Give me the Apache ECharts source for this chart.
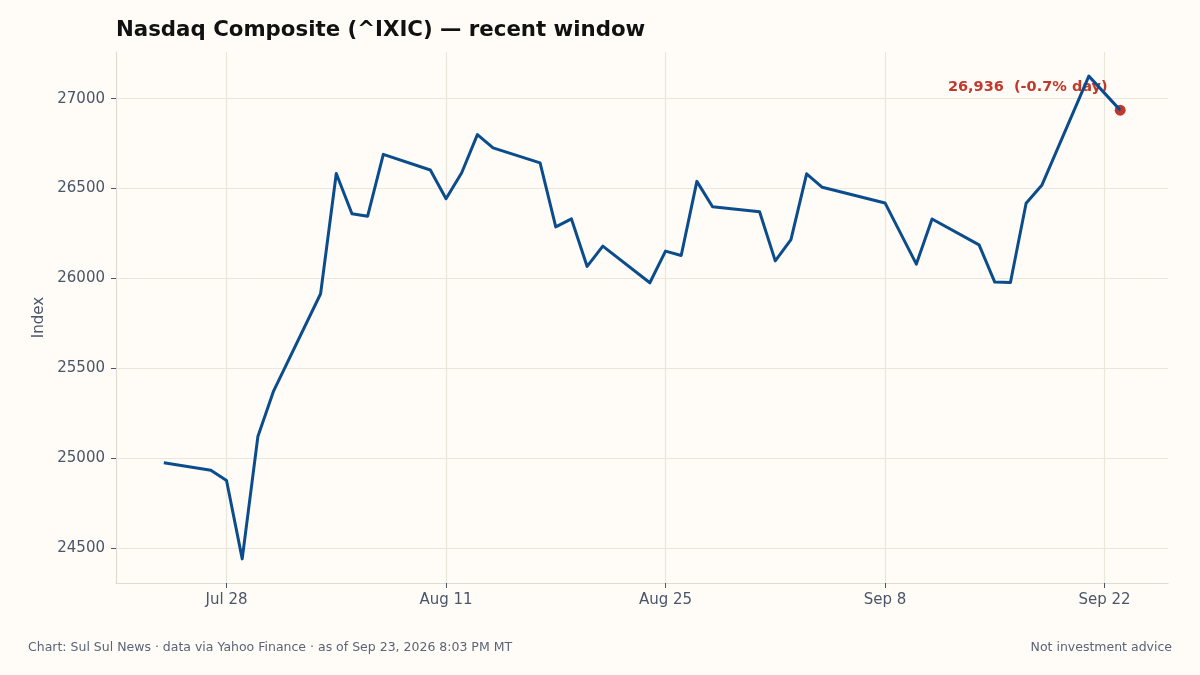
<!DOCTYPE html>
<html>
<head>
<meta charset="utf-8">
<title>Nasdaq Composite (^IXIC) — recent window</title>
<script src="https://cdn.jsdelivr.net/npm/echarts@6.0.0/dist/echarts.min.js"></script>
<style>
  html, body { margin:0; padding:0; background:#fffcf7; }
  #main { width:1200px; height:675px; }
</style>
</head>
<body>
<div id="main"></div>
<script>
// closing values (trading days only)
var dates = [
  '2026-07-24','2026-07-27','2026-07-28','2026-07-29','2026-07-30','2026-07-31',
  '2026-08-03','2026-08-04','2026-08-05','2026-08-06','2026-08-07',
  '2026-08-10','2026-08-11','2026-08-12','2026-08-13','2026-08-14',
  '2026-08-17','2026-08-18','2026-08-19','2026-08-20','2026-08-21',
  '2026-08-24','2026-08-25','2026-08-26','2026-08-27','2026-08-28',
  '2026-08-31','2026-09-01','2026-09-02','2026-09-03','2026-09-04',
  '2026-09-08','2026-09-10','2026-09-11',
  '2026-09-14','2026-09-15','2026-09-16','2026-09-17','2026-09-18',
  '2026-09-21','2026-09-23'
];
var closes = [
  24975, 24934, 24877, 24441, 25121, 25374,
  25915, 26584, 26360, 26346, 26690,
  26603, 26443, 26588, 26800, 26726,
  26643, 26287, 26331, 26067, 26180,
  25976, 26152, 26128, 26540, 26399,
  26371, 26098, 26216, 26582, 26507,
  26420, 26080, 26331,
  26187, 25980, 25978, 26418, 26518,
  27125, 26936
];
var xTicks = ['2026-07-28','2026-08-11','2026-08-25','2026-09-08','2026-09-22'];
var yTicks = [24500, 25000, 25500, 26000, 26500, 27000];

var MONTHS = ['Jan','Feb','Mar','Apr','May','Jun','Jul','Aug','Sep','Oct','Nov','Dec'];
function toTs(s){
  var p = s.split('-');
  return new Date(+p[0], +p[1]-1, +p[2]).getTime();
}

var pts = dates.map(function(d, i){ return [toTs(d), closes[i]]; });
var last = pts[pts.length-1];
var prev = pts[pts.length-2];
var pct = (last[1]/prev[1] - 1) * 100;

// 5% padding on both axes
var xs = pts.map(function(p){ return p[0]; });
var xMin = Math.min.apply(null, xs), xMax = Math.max.apply(null, xs);
var yMin = Math.min.apply(null, closes), yMax = Math.max.apply(null, closes);
var xPad = (xMax - xMin) * 0.05, yPad = (yMax - yMin) * 0.05;

var FONT = 'DejaVu Sans';
var INK = '#4a5568';
var GRID = '#ebe6dc';

var myChart = echarts.init(document.getElementById('main'));
var option = {
  backgroundColor: '#fffcf7',
  animation: false,
  textStyle: { fontFamily: FONT },
  grid: { left: 116, right: 32, top: 52, bottom: 92 },
  xAxis: {
    type: 'value',
    min: xMin - xPad,
    max: xMax + xPad,
    axisLine: { show: true, lineStyle: { color: '#e0dbd1', width: 1.2 } },
    axisTick: { show: true, length: 5, lineStyle: { color: INK }, customValues: xTicks.map(toTs) },
    axisLabel: {
      color: INK, fontSize: 15, fontFamily: FONT, margin: 10,
      customValues: xTicks.map(toTs),
      formatter: function(v){ var d = new Date(v); return MONTHS[d.getMonth()] + ' ' + d.getDate(); }
    },
    splitLine: { show: true, lineStyle: { color: GRID, width: 1.2 } }
  },
  yAxis: {
    type: 'value',
    min: yMin - yPad,
    max: yMax + yPad,
    name: 'Index',
    nameLocation: 'middle',
    nameGap: 68,
    nameTextStyle: { color: INK, fontSize: 15, fontFamily: FONT },
    axisLine: { show: true, lineStyle: { color: '#e0dbd1', width: 1.2 } },
    axisTick: { show: true, length: 5, lineStyle: { color: INK }, customValues: yTicks },
    axisLabel: {
      color: INK, fontSize: 15, fontFamily: FONT, margin: 11,
      customValues: yTicks,
      formatter: function(v){ return String(v); }
    },
    splitLine: { show: true, lineStyle: { color: GRID, width: 1.2 } }
  },
  series: [{
    name: '^IXIC',
    type: 'line',
    data: pts,
    showSymbol: false,
    lineStyle: { color: '#0b4d8c', width: 3, join: 'round' },
    itemStyle: { color: '#0b4d8c' }
  }, {
    name: 'last',
    type: 'scatter',
    data: [last],
    symbolSize: 11,
    itemStyle: { color: '#c0392b', opacity: 1 },
    label: {
      show: true,
      position: 'left',
      distance: 7,
      offset: [0, -23],
      color: '#c0392b',
      fontWeight: 'bold',
      fontSize: 14.5,
      fontFamily: FONT,
      formatter: function(){
        return last[1].toLocaleString('en-US') + '  (' + (pct >= 0 ? '+' : '') + pct.toFixed(1) + '% day)';
      }
    }
  }],
  graphic: [{
    type: 'text', x: 116, y: 30,
    style: { text: 'Nasdaq Composite (^IXIC) — recent window', font: 'bold 21.3px "DejaVu Sans"', fill: '#111111', align: 'left', verticalAlign: 'middle' }
  }, {
    type: 'text', x: 28, y: 648,
    style: { text: 'Chart: Sul Sul News · data via Yahoo Finance · as of Sep 23, 2026 8:03 PM MT', font: '12.5px "DejaVu Sans"', fill: '#5a6478', align: 'left', verticalAlign: 'middle' }
  }, {
    type: 'text', x: 1172, y: 648,
    style: { text: 'Not investment advice', font: '12.5px "DejaVu Sans"', fill: '#5a6478', align: 'right', verticalAlign: 'middle' }
  }]
};
myChart.setOption(option);
</script>
</body>
</html>
